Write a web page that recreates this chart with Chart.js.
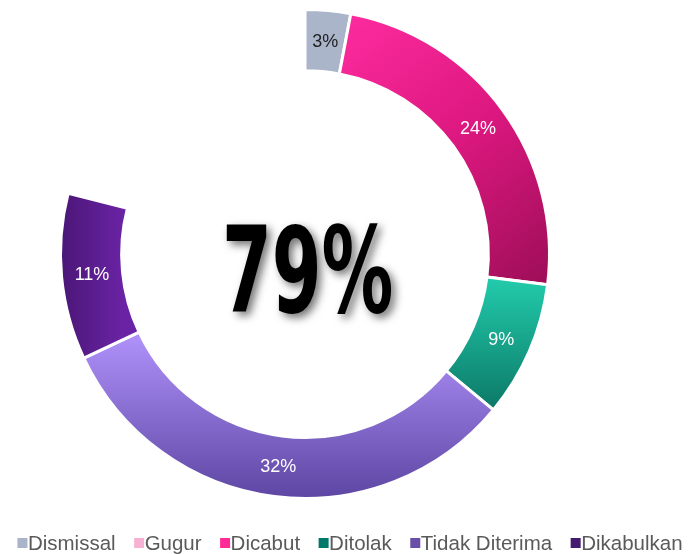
<!DOCTYPE html>
<html>
<head>
<meta charset="utf-8">
<script src="https://cdn.jsdelivr.net/npm/chart.js@4/dist/chart.umd.min.js"></script>
<style>
  html, body { margin: 0; padding: 0; background: #ffffff; }
  #wrap { width: 692px; height: 554px; position: relative; }
</style>
</head>
<body>
<div id="wrap"><canvas id="c" width="692" height="554"></canvas></div>
<script>
// ---- data ----
const categories = ['Dismissal', 'Gugur', 'Dicabut', 'Ditolak', 'Tidak Diterima', 'Dikabulkan'];
const values = [3, 0, 24, 9, 32, 11];          // percent
const legendColors = ['#a9b4c8', '#f9b1d3', '#ff2a96', '#00796a', '#6a4fa6', '#431a6e'];
const labelColors = ['#222222', '#ffffff', '#ffffff', '#ffffff', '#ffffff', '#ffffff'];

const total = values.reduce((a, b) => a + b, 0);

function geom(chart) {
  const ca = chart.chartArea;
  const cx = (ca.left + ca.right) / 2, cy = (ca.top + ca.bottom) / 2;
  const R = Math.min(ca.right - ca.left, ca.bottom - ca.top) / 2;
  return { cx, cy, R };
}

function fill(context) {
  const chart = context.chart;
  const i = context.dataIndex;
  if (!chart.chartArea) return legendColors[i];
  const { cx, cy, R } = geom(chart);
  const c = chart.ctx;
  let g;
  switch (i) {
    case 0: return '#aab5c9';
    case 1: return '#f7b2d3';
    case 2:
      g = c.createLinearGradient(cx + 0.15 * R, cy - R, cx + R, cy + 0.1 * R);
      g.addColorStop(0, '#ff2ca0');
      g.addColorStop(0.5, '#dd1880');
      g.addColorStop(1, '#9e0e58');
      return g;
    case 3:
      g = c.createLinearGradient(0, cy + 0.1 * R, 0, cy + 0.65 * R);
      g.addColorStop(0, '#22cbab');
      g.addColorStop(1, '#0b7665');
      return g;
    case 4:
      g = c.createLinearGradient(0, cy + 0.35 * R, 0, cy + R);
      g.addColorStop(0, '#ad8ff7');
      g.addColorStop(1, '#5c45a2');
      return g;
    case 5:
      g = c.createLinearGradient(cx - R, 0, cx - 0.74 * R, 0);
      g.addColorStop(0, '#4a1676');
      g.addColorStop(1, '#6a23a4');
      return g;
  }
  return legendColors[i];
}

// labels inside arcs + center total + custom legend
const decor = {
  id: 'decor',
  afterDatasetsDraw(chart) {
    const ctx = chart.ctx;
    const meta = chart.getDatasetMeta(0);
    ctx.save();
    ctx.font = '18px "Liberation Sans", Arial, sans-serif';
    ctx.textAlign = 'center';
    ctx.textBaseline = 'middle';
    meta.data.forEach((arc, i) => {
      if (!values[i]) return;
      const p = arc.tooltipPosition();
      ctx.fillStyle = labelColors[i];
      ctx.fillText(values[i] + '%', p.x, p.y + 1);
    });
    ctx.restore();

    // center total
    const { cx, cy } = geom(chart);
    const txt = total + '%';
    ctx.save();
    ctx.font = 'bold 124px "DejaVu Sans", sans-serif';
    const m = ctx.measureText(txt);
    const w = m.actualBoundingBoxLeft + m.actualBoundingBoxRight;
    const h = m.actualBoundingBoxAscent;
    const sx = 165 / w, sy = 90 / h;
    ctx.shadowColor = 'rgba(0,0,0,0.55)';
    ctx.shadowBlur = 9;
    ctx.shadowOffsetX = 4;
    ctx.shadowOffsetY = 4;
    ctx.fillStyle = '#000000';
    ctx.translate(cx + 4, cy + 58);
    ctx.scale(sx, sy);
    ctx.textAlign = 'left';
    ctx.textBaseline = 'alphabetic';
    ctx.fillText(txt, -w / 2 + m.actualBoundingBoxLeft, 0);
    ctx.restore();
  },
  afterDraw(chart) {
    const ctx = chart.ctx;
    ctx.save();
    ctx.font = '20.5px "Liberation Sans", Arial, sans-serif';
    ctx.textBaseline = 'alphabetic';
    ctx.textAlign = 'left';
    const box = 10, gap = 0.5, spacing = 18.5;
    const widths = categories.map(t => ctx.measureText(t).width);
    const totalW = widths.reduce((a, b) => a + b, 0) + categories.length * (box + gap) + (categories.length - 1) * spacing;
    let x = 350 - totalW / 2;
    const baseY = 549.5;
    categories.forEach((t, i) => {
      ctx.fillStyle = legendColors[i];
      ctx.fillRect(x, 538, box, box);
      x += box + gap;
      ctx.fillStyle = '#5a5a5a';
      ctx.fillText(t, x, baseY);
      x += widths[i] + spacing;
    });
    ctx.restore();
  }
};

new Chart(document.getElementById('c'), {
  type: 'doughnut',
  data: {
    labels: categories,
    datasets: [{
      data: values,
      backgroundColor: fill,
      borderColor: '#ffffff',
      borderWidth: 3,
      hoverOffset: 0
    }]
  },
  options: {
    responsive: false,
    animation: false,
    rotation: 0,
    circumference: total / 100 * 360,
    cutout: '75%',
    layout: { padding: { top: 8, bottom: 54, left: 59, right: 141 } },
    plugins: {
      legend: { display: false },
      tooltip: { enabled: false }
    }
  },
  plugins: [decor]
});
</script>
</body>
</html>
